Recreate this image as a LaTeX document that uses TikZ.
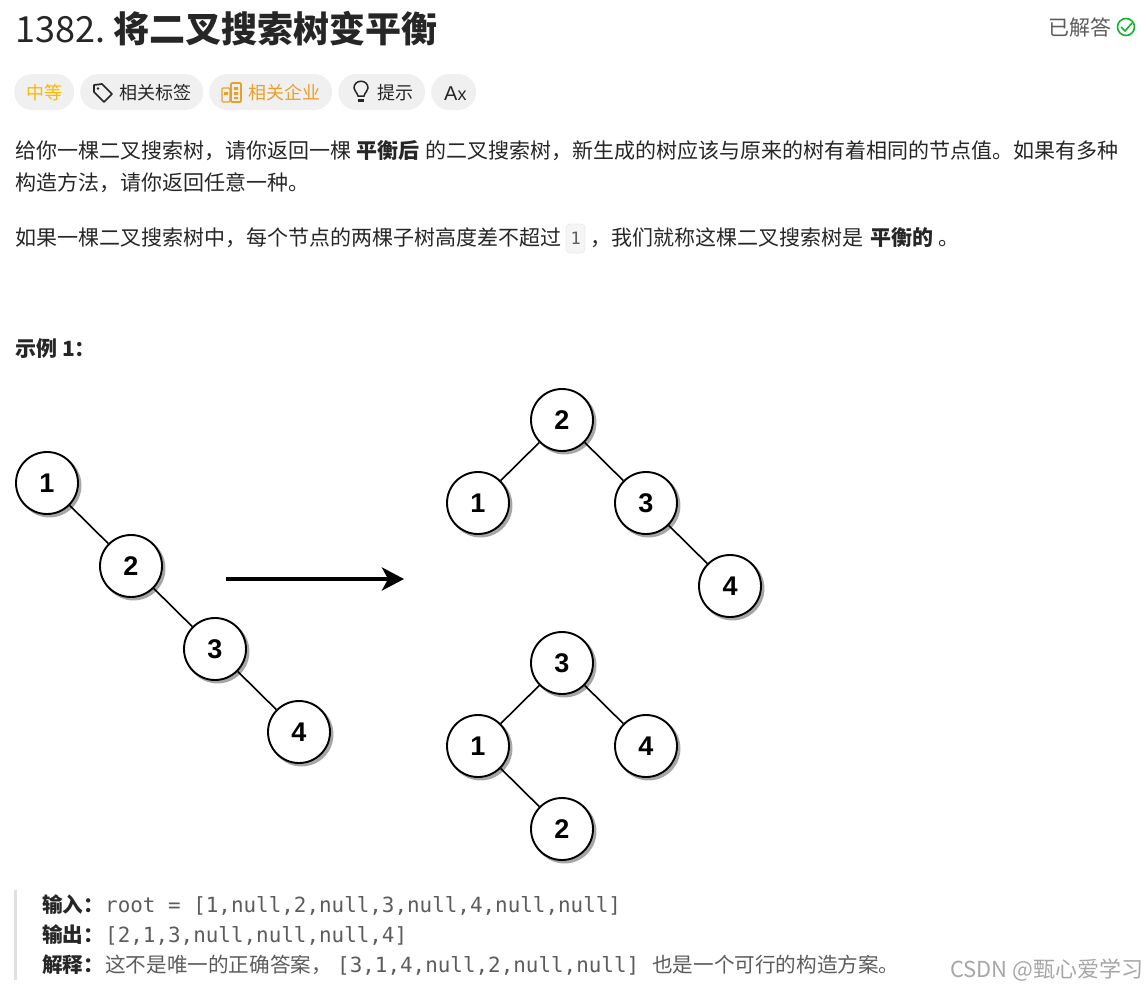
\documentclass[tikz,border=0pt]{standalone}
\usepackage{fontspec}
\setmainfont{Noto Sans CJK SC}
\setmonofont{DejaVu Sans Mono}
\newfontfamily\numfont{Liberation Sans}
\usetikzlibrary{arrows.meta,positioning,shadows}
\definecolor{ink}{HTML}{262626}
\definecolor{grey}{HTML}{5C5C5C}
\definecolor{chipbg}{HTML}{F0F0F0}
\definecolor{easy}{HTML}{FFB800}
\definecolor{corp}{HTML}{E8A02C}
\definecolor{done}{HTML}{10B52C}
\begin{document}
\begin{tikzpicture}[
		x=1pt, y=-1pt,
		node distance=83pt and 84pt,
		on grid,
		treenode/.style={circle, draw, line width=1.9pt, fill=white, minimum size=62pt, inner sep=0pt,
			font=\numfont\fontsize{27}{27}\selectfont\bfseries,
			copy shadow={shadow xshift=2.5pt, shadow yshift=-2.5pt, draw=black!35, fill=black!35}},
		edgeline/.style={line width=1.6pt},
		chip/.style={fill=chipbg, rounded corners=18pt, minimum height=36pt, inner sep=0pt, anchor=west},
		line/.style={anchor=base west, inner sep=0pt, text=ink, font=\fontsize{21}{21}\selectfont},
		note/.style={line, font=\fontsize{20.6}{21}\selectfont},
		code/.style={line, text=grey, font=\ttfamily\fontsize{20.9}{21}\selectfont},
		chiptext/.style={anchor=base west, inner sep=0pt, text=ink, font=\fontsize{18}{18}\selectfont},
	]
		\useasboundingbox (0,0) rectangle (1146,989);

		% heading
		\node (titlenum) [anchor=base west, inner sep=0pt, text=ink, font=\fontsize{36}{36}\selectfont] at (15,42) {1382.};
		\node (title) [anchor=base west, inner sep=0pt, text=ink, font=\fontsize{36}{36}\selectfont] at (113,42) {\textbf{将二叉搜索树变平衡}};
		\node (status) [line, text=grey] at (1048,35) {已解答};
		\node (statusicon) [circle, draw=done, line width=1.6pt, minimum size=17pt, inner sep=0pt] at (1126,27) {};
		\draw[done, line width=1.6pt] (1121,27) -- (1125,31) -- (1132,23);

		% chips
		\node (easychip) [chip, minimum width=60pt] at (14,92) {};
		\node (tagchip) [chip, minimum width=123pt] at (80,92) {};
		\node (corpchip) [chip, minimum width=123pt] at (209,92) {};
		\node (hintchip) [chip, minimum width=87pt] at (338,92) {};
		\node (langchip) [chip, minimum width=45pt] at (431,92) {};
		\node (easylabel) [chiptext, text=easy] at (26,99) {中等};
		\node (taglabel) [chiptext] at (119,99) {相关标签};
		\node (corplabel) [chiptext, text=corp] at (248,99) {相关企业};
		\node (hintlabel) [chiptext] at (377,99) {提示};
		\node (langlabel) [chiptext, font=\numfont\fontsize{20}{20}\selectfont] at (444,100) {A\fontsize{18}{18}\selectfont x};
		\draw[ink, line width=1.7pt, line join=round] (94,85) -- (102,84) -- (112,94) -- (104,102) -- (94,92) -- cycle;
		\fill[ink] (98,88.5) circle (1.3pt);
		\draw[corp, line width=1.2pt, rounded corners=1pt] (222,88) rectangle (230,102);
		\draw[corp, line width=1.6pt, rounded corners=1pt] (231,83) rectangle (241,102);
		\fill[corp] (234,87) rectangle (238,90) (234,92) rectangle (238,95) (234,97) rectangle (238,99) (224,92) rectangle (228,95);
		\draw[ink, line width=1.5pt] (358,96) .. controls (357,92) and (354,91) .. (354,88) .. controls (354,79) and (368,79) .. (368,88) .. controls (368,91) and (365,92) .. (364,96) -- cycle;
		\draw[ink, line width=3pt] (358,100) -- (364,100);

		% statement
		\node (para1a) [line] at (15,158) {给你一棵二叉搜索树，请你返回一棵};
		\node (para1b) [line] at (356,158) {\textbf{平衡后}};
		\node (para1c) [line] at (425,158) {的二叉搜索树，新生成的树应该与原来的树有着相同的节点值。如果有多种};
		\node (para2) [line] at (15,190) {构造方法，请你返回任意一种。};
		\node (para3a) [line] at (15,245) {如果一棵二叉搜索树中，每个节点的两棵子树高度差不超过};
		\node (onebox) [draw=black!8, fill=black!4, rounded corners=4pt, line width=0.8pt, minimum width=19pt, minimum height=29pt, inner sep=0pt] at (575.5,238.5) {};
		\node (onelabel) [code, font=\ttfamily\fontsize{17}{17}\selectfont] at (570.5,244) {1};
		\node (para3b) [line] at (590,245) {，我们就称这棵二叉搜索树是};
		\node (para3c) [line] at (870,245) {\textbf{平衡的}};
		\node (para3d) [line] at (938,245) {。};
		\node (example) [line, font=\fontsize{21}{21}\selectfont] at (15,356) {\textbf{示例 1：}};

		% chain
		\node (a1) [treenode] at (47,483) {1};
		\node (a2) [treenode, below right=of a1] {2};
		\node (a3) [treenode, below right=of a2] {3};
		\node (a4) [treenode, below right=of a3] {4};
		\draw[edgeline] (a1) -- (a2);
		\draw[edgeline] (a2) -- (a3);
		\draw[edgeline] (a3) -- (a4);

		\coordinate (from) at (226,579);
		\coordinate (to) at (404,579);
		\draw[line width=4.6pt, -{Stealth[length=22pt, width=23pt, inset=6pt]}] (from) -- (to);

		% upper result
		\node (b2) [treenode] at (562,420) {2};
		\node (b1) [treenode, below left=of b2] {1};
		\node (b3) [treenode, below right=of b2] {3};
		\node (b4) [treenode, below right=of b3] {4};
		\draw[edgeline] (b2) -- (b1);
		\draw[edgeline] (b2) -- (b3);
		\draw[edgeline] (b3) -- (b4);

		% lower result
		\node (c3) [treenode] at (562,663) {3};
		\node (c1) [treenode, below left=of c3] {1};
		\node (c4) [treenode, below right=of c3] {4};
		\node (c2) [treenode, below right=of c1] {2};
		\draw[edgeline] (c3) -- (c1);
		\draw[edgeline] (c3) -- (c4);
		\draw[edgeline] (c1) -- (c2);

		% notes
		\coordinate (bartop) at (15.5,890);
		\coordinate (barend) at (15.5,980);
		\draw[black!12, line width=3pt] (bartop) -- (barend);
		\node (inkey) [note] at (42,912) {\textbf{输入：}};
		\node (inval) [code] at (105,912) {root = [1,null,2,null,3,null,4,null,null]};
		\node (outkey) [note] at (42,942) {\textbf{输出：}};
		\node (outval) [code] at (105,942) {[2,1,3,null,null,null,4]};
		\node (whykey) [note] at (42,972) {\textbf{解释：}};
		\node (whya) [note, text=grey] at (105,972) {这不是唯一的正确答案，};
		\node (whyb) [code] at (337,972) {[3,1,4,null,2,null,null]};
		\node (whyc) [note, text=grey] at (652,972) {也是一个可行的构造方案。};
		\node (mark) [anchor=base west, inner sep=0pt, text=black!35, font=\fontsize{22}{22}\selectfont] at (950,977) {CSDN @甄心爱学习};
	\end{tikzpicture}
\end{document}
